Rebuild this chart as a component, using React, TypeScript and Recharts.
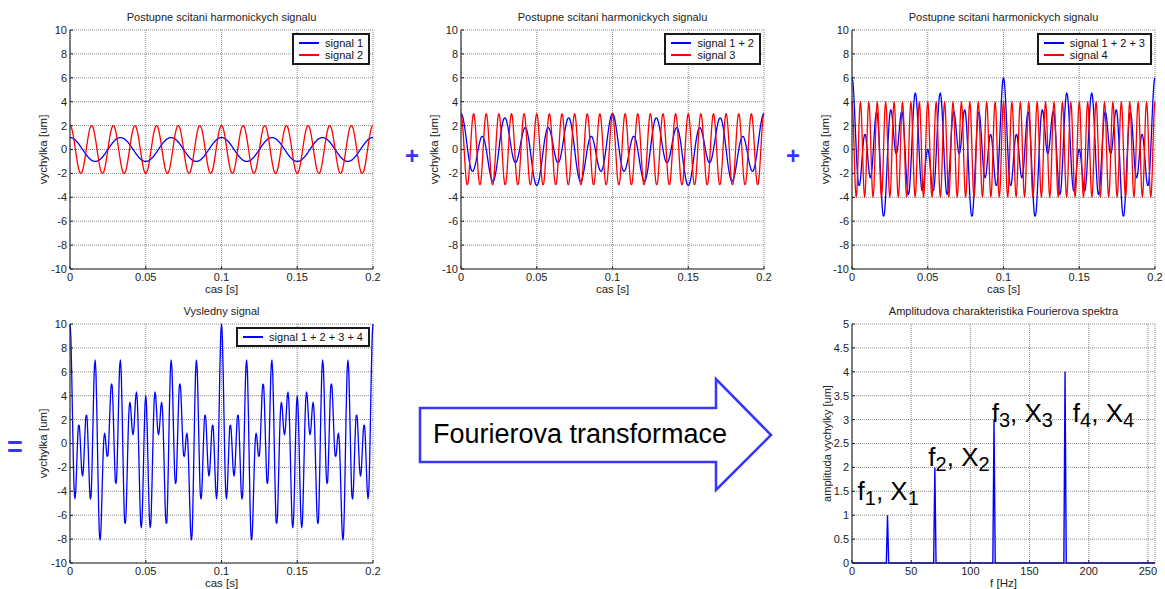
import React from 'react';
import { LineChart, Line, XAxis, YAxis, CartesianGrid, Legend, Label, ReferenceDot } from 'recharts';

const FONT = "'Liberation Sans', Arial, Helvetica, sans-serif";
const BLUE = '#0000ff';
const RED = '#ff0000';
const ACCENT = '#3535ff';

// samples every 1/1800 s; all signals are even and repeat every 0.1 s,
// so only 0 .. 0.05 s is kept here and mirrored below
const SAMPLE_STEP = 1 / 1800;
const SAMPLE_COUNT = 361;

const signal1 = [
  1, 0.99, 0.98, 0.95, 0.91, 0.87, 0.81, 0.74, 0.67, 0.59, 0.5, 0.41, 0.31, 0.21, 0.1, 0, -0.1, -0.21, -0.31, -0.41,
  -0.5, -0.59, -0.67, -0.74, -0.81, -0.87, -0.91, -0.95, -0.98, -0.99, -1,
  -0.99, -0.98, -0.95, -0.91, -0.87, -0.81, -0.74, -0.67, -0.59, -0.5, -0.41, -0.31, -0.21, -0.1, 0, 0.1, 0.21, 0.31, 0.41,
  0.5, 0.59, 0.67, 0.74, 0.81, 0.87, 0.91, 0.95, 0.98, 0.99, 1,
  0.99, 0.98, 0.95, 0.91, 0.87, 0.81, 0.74, 0.67, 0.59, 0.5, 0.41, 0.31, 0.21, 0.1, 0, -0.1, -0.21, -0.31, -0.41,
  -0.5, -0.59, -0.67, -0.74, -0.81, -0.87, -0.91, -0.95, -0.98, -0.99, -1,
];
const signal2 = [
  2, 1.94, 1.77, 1.49, 1.12, 0.68, 0.21, -0.28, -0.75, -1.18, -1.53, -1.8, -1.96, -2, -1.92, -1.73, -1.44, -1.06, -0.62, -0.14,
  0.35, 0.81, 1.23, 1.58, 1.83, 1.97, 2, 1.9, 1.7, 1.39, 1,
  0.55, 0.07, -0.42, -0.88, -1.29, -1.62, -1.85, -1.98, -1.99, -1.88, -1.66, -1.34, -0.94, -0.48, 0, 0.48, 0.94, 1.34, 1.66,
  1.88, 1.99, 1.98, 1.85, 1.62, 1.29, 0.88, 0.42, -0.07, -0.55, -1,
  -1.39, -1.7, -1.9, -2, -1.97, -1.83, -1.58, -1.23, -0.81, -0.35, 0.14, 0.62, 1.06, 1.44, 1.73, 1.92, 2, 1.96, 1.8, 1.53,
  1.18, 0.75, 0.28, -0.21, -0.68, -1.12, -1.49, -1.77, -1.94, -2,
];
const signal3 = [
  3, 2.74, 2.01, 0.93, -0.31, -1.5, -2.43, -2.93, -2.93, -2.43, -1.5, -0.31, 0.93, 2.01, 2.74,
  3, 2.74, 2.01, 0.93, -0.31, -1.5, -2.43, -2.93, -2.93, -2.43, -1.5, -0.31, 0.93, 2.01, 2.74,
  3, 2.74, 2.01, 0.93, -0.31, -1.5, -2.43, -2.93, -2.93, -2.43, -1.5, -0.31, 0.93, 2.01, 2.74,
  3, 2.74, 2.01, 0.93, -0.31, -1.5, -2.43, -2.93, -2.93, -2.43, -1.5, -0.31, 0.93, 2.01, 2.74,
  3, 2.74, 2.01, 0.93, -0.31, -1.5, -2.43, -2.93, -2.93, -2.43, -1.5, -0.31, 0.93, 2.01, 2.74,
  3, 2.74, 2.01, 0.93, -0.31, -1.5, -2.43, -2.93, -2.93, -2.43, -1.5, -0.31, 0.93, 2.01, 2.74,
  3,
];
const signal4 = [
  4, 3.24, 1.24, -1.24, -3.24, -4, -3.24, -1.24, 1.24, 3.24,
  4, 3.24, 1.24, -1.24, -3.24, -4, -3.24, -1.24, 1.24, 3.24,
  4, 3.24, 1.24, -1.24, -3.24, -4, -3.24, -1.24, 1.24, 3.24,
  4, 3.24, 1.24, -1.24, -3.24, -4, -3.24, -1.24, 1.24, 3.24,
  4, 3.24, 1.24, -1.24, -3.24, -4, -3.24, -1.24, 1.24, 3.24,
  4, 3.24, 1.24, -1.24, -3.24, -4, -3.24, -1.24, 1.24, 3.24,
  4, 3.24, 1.24, -1.24, -3.24, -4, -3.24, -1.24, 1.24, 3.24,
  4, 3.24, 1.24, -1.24, -3.24, -4, -3.24, -1.24, 1.24, 3.24,
  4, 3.24, 1.24, -1.24, -3.24, -4, -3.24, -1.24, 1.24, 3.24,
  4,
];
const signal12 = [
  3, 2.94, 2.74, 2.44, 2.03, 1.55, 1.02, 0.46, -0.08, -0.59, -1.03, -1.39, -1.65, -1.79, -1.82, -1.73, -1.54, -1.27, -0.93, -0.55,
  -0.15, 0.23, 0.56, 0.83, 1.02, 1.1, 1.08, 0.95, 0.72, 0.39, 0,
  -0.44, -0.91, -1.37, -1.79, -2.15, -2.43, -2.6, -2.65, -2.58, -2.38, -2.06, -1.65, -1.15, -0.59, 0, 0.59, 1.15, 1.65, 2.06,
  2.38, 2.58, 2.65, 2.6, 2.43, 2.15, 1.79, 1.37, 0.91, 0.44, 0,
  -0.39, -0.72, -0.95, -1.08, -1.1, -1.02, -0.83, -0.56, -0.23, 0.15, 0.55, 0.93, 1.27, 1.54, 1.73, 1.82, 1.79, 1.65, 1.39, 1.03,
  0.59, 0.08, -0.46, -1.02, -1.55, -2.03, -2.44, -2.74, -2.94, -3,
];
const signal123 = [
  6, 5.68, 4.75, 3.36, 1.72, 0.05, -1.41, -2.47, -3.01, -3.01, -2.53, -1.7, -0.72, 0.22, 0.92, 1.27, 1.2, 0.74, 0, -0.86,
  -1.65, -2.2, -2.37, -2.1, -1.41, -0.4, 0.77, 1.88, 2.73, 3.14, 3,
  2.3, 1.1, -0.44, -2.1, -3.65, -4.85, -5.53, -5.58, -5, -3.88, -2.38, -0.72, 0.86, 2.15, 3, 3.33, 3.15, 2.57, 1.75, 0.88,
  0.15, -0.28, -0.34, 0, 0.65, 1.48, 2.29, 2.92, 3.18, 3,
  2.35, 1.29, -0.02, -1.4, -2.6, -3.45, -3.77, -3.5, -2.65, -1.35, 0.23, 1.85, 3.28, 4.28, 4.73, 4.56, 3.8, 2.57, 1.08, -0.47,
  -1.84, -2.85, -3.4, -3.45, -3.05, -2.35, -1.51, -0.74, -0.19, 0,
];
const signal1234 = [
  10, 8.91, 5.99, 2.13, -1.52, -3.95, -4.65, -3.71, -1.78, 0.22, 1.47, 1.53, 0.52, -1.02, -2.31, -2.73, -2.04, -0.5, 1.24, 2.38,
  2.35, 1.03, -1.14, -3.34, -4.65, -4.4, -2.47, 0.64, 3.96, 6.37, 7,
  5.53, 2.34, -1.68, -5.34, -7.65, -8.09, -6.77, -4.35, -1.77, 0.12, 0.86, 0.52, -0.38, -1.08, -1, 0.09, 1.92, 3.81, 4.99, 4.88,
  3.39, 0.95, -1.57, -3.24, -3.35, -1.76, 1.06, 4.15, 6.42, 7,
  5.58, 2.53, -1.26, -4.63, -6.6, -6.68, -5, -2.26, 0.58, 2.65, 3.47, 3.09, 2.04, 1.05, 0.73, 1.32, 2.56, 3.81, 4.31, 3.53,
  1.4, -1.62, -4.64, -6.68, -7.05, -5.58, -2.75, 0.5, 3.04, 4,
];

const timeTicks = [0, 0.05, 0.1, 0.15, 0.2];
const displacementTicks = [-10, -8, -6, -4, -2, 0, 2, 4, 6, 8, 10];

// amplitude spectrum
const spectrumFreq = [0, 29, 30, 31, 69, 70, 71, 119, 120, 121, 179, 180, 181, 256];
const spectrumAmp = [0, 0, 1, 0, 0, 2, 0, 0, 3, 0, 0, 4, 0, 0];
const freqTicks = [0, 50, 100, 150, 200, 250];
const ampTicks = [0, 0.5, 1, 1.5, 2, 2.5, 3, 3.5, 4, 4.5, 5];

// "f_n, X_n" annotations (data coordinates of the text baseline start)
const peakIndex = ['1', '2', '3', '4'];
const peakLabelFreq = [4.7, 64.5, 118, 186.6];
const peakLabelAmp = [1.32, 2.02, 2.96, 2.96];

const halfIndex = (k: number) => {
  const m = k % 180;
  return m <= 90 ? m : 180 - m;
};

const timeData = Array.from({ length: SAMPLE_COUNT }, (_, k) => {
  const i = halfIndex(k);
  return {
    t: k * SAMPLE_STEP,
    s1: signal1[i],
    s2: signal2[i],
    s3: signal3[i],
    s4: signal4[i],
    s12: signal12[i],
    s123: signal123[i],
    s1234: signal1234[i],
  };
});

const spectrumData = spectrumFreq.map((f, i) => ({ f, a: spectrumAmp[i] }));

const PLOT_W = 303;
const PLOT_H = 239;
const M_LEFT = 50;
const M_TOP = 26;
const M_RIGHT = 8;
const X_AXIS_H = 40;

const AXIS = { stroke: '#2a2a2a', strokeWidth: 1.1 };
const TICK = { fontSize: 11, fill: '#222' };
const GRID = { stroke: '#8a8a8a', strokeDasharray: '1 1' };

type Series = { key: string; name: string; color: string };

const LegendBox = ({ series }: { series: Series[] }) => (
  <div
    style={{
      background: '#fff',
      border: '2px solid #1a1a1a',
      padding: '2px 5px 2px 5px',
      fontSize: 11,
      lineHeight: '12px',
      color: '#111',
      whiteSpace: 'nowrap',
    }}
  >
    {series.map((s) => (
      <div key={s.key} style={{ display: 'flex', alignItems: 'center' }}>
        <div style={{ width: 20, height: 1.5, background: s.color, marginRight: 6, flexShrink: 0 }} />
        <span>{s.name}</span>
      </div>
    ))}
  </div>
);

const Title = ({ text }: { text: string }) => (
  <div
    style={{
      position: 'absolute',
      left: M_LEFT,
      width: PLOT_W,
      top: M_TOP - 19,
      textAlign: 'center',
      fontSize: 11,
      lineHeight: '13px',
      color: '#222',
      whiteSpace: 'nowrap',
    }}
  >
    {text}
  </div>
);

type PanelProps = { left: number; top: number; title: string; series: Series[] };

const TimePanel = ({ left, top, title, series }: PanelProps) => (
  <div style={{ position: 'absolute', left: left - M_LEFT, top: top - M_TOP }}>
    <Title text={title} />
    <LineChart
      width={M_LEFT + PLOT_W + M_RIGHT}
      height={M_TOP + PLOT_H + X_AXIS_H}
      data={timeData}
      margin={{ top: M_TOP, right: M_RIGHT, bottom: 0, left: 0 }}
    >
      <CartesianGrid {...GRID} />
      <XAxis
        type="number"
        dataKey="t"
        domain={[0, 0.2]}
        ticks={timeTicks}
        height={X_AXIS_H}
        axisLine={AXIS}
        tickLine={AXIS}
        tickSize={-3}
        tickMargin={7}
        tick={TICK}
        interval={0}
      >
        <Label value="cas [s]" position="center" style={{ fontSize: 11.5, fill: '#222' }} />
      </XAxis>
      <XAxis
        xAxisId="top"
        orientation="top"
        type="number"
        dataKey="t"
        domain={[0, 0.2]}
        ticks={timeTicks}
        height={0}
        axisLine={AXIS}
        tickLine={AXIS}
        tickSize={-3}
        tick={false}
      />
      <YAxis
        type="number"
        domain={[-10, 10]}
        ticks={displacementTicks}
        width={M_LEFT}
        axisLine={AXIS}
        tickLine={AXIS}
        tickSize={-3}
        tickMargin={6}
        tick={TICK}
        interval={0}
      >
        <Label value="vychylka [um]" angle={-90} position="center" dx={-2} style={{ fontSize: 11.5, fill: '#222' }} />
      </YAxis>
      <YAxis
        yAxisId="right"
        orientation="right"
        type="number"
        domain={[-10, 10]}
        ticks={displacementTicks}
        width={0}
        axisLine={AXIS}
        tickLine={AXIS}
        tickSize={-3}
        tick={false}
      />
      <Legend
        layout="horizontal"
        verticalAlign="middle"
        align="center"
        wrapperStyle={{ top: M_TOP + 3, right: M_RIGHT + 3, width: 'auto', left: 'auto' }}
        content={() => <LegendBox series={series} />}
      />
      {series.map((s) => (
        <Line
          key={s.key}
          type="monotone"
          dataKey={s.key}
          name={s.name}
          stroke={s.color}
          strokeWidth={1.3}
          dot={false}
          activeDot={false}
          isAnimationActive={false}
        />
      ))}
    </LineChart>
  </div>
);

const PeakLabel = (props: any) => {
  const { viewBox, n } = props;
  return (
    <text x={viewBox.x} y={viewBox.y} fontSize={26} fill="#000" fontFamily={FONT}>
      f
      <tspan dy={5} fontSize={20}>{n}</tspan>
      <tspan dy={-5}>, X</tspan>
      <tspan dy={5} fontSize={20}>{n}</tspan>
    </text>
  );
};

const SpectrumPanel = ({ left, top }: { left: number; top: number }) => (
  <div style={{ position: 'absolute', left: left - M_LEFT, top: top - M_TOP }}>
    <Title text="Amplitudova charakteristika Fourierova spektra" />
    <LineChart
      width={M_LEFT + PLOT_W + M_RIGHT}
      height={M_TOP + PLOT_H + X_AXIS_H}
      data={spectrumData}
      margin={{ top: M_TOP, right: M_RIGHT, bottom: 0, left: 0 }}
    >
      <CartesianGrid {...GRID} />
      <XAxis
        type="number"
        dataKey="f"
        domain={[0, 256]}
        ticks={freqTicks}
        height={X_AXIS_H}
        axisLine={AXIS}
        tickLine={AXIS}
        tickSize={-3}
        tickMargin={7}
        tick={TICK}
        interval={0}
      >
        <Label value="f [Hz]" position="center" style={{ fontSize: 11.5, fill: '#222' }} />
      </XAxis>
      <XAxis
        xAxisId="top"
        orientation="top"
        type="number"
        dataKey="f"
        domain={[0, 256]}
        ticks={freqTicks}
        height={0}
        axisLine={AXIS}
        tickLine={AXIS}
        tickSize={-3}
        tick={false}
      />
      <YAxis
        type="number"
        domain={[0, 5]}
        ticks={ampTicks}
        width={M_LEFT}
        axisLine={AXIS}
        tickLine={AXIS}
        tickSize={-3}
        tickMargin={6}
        tick={TICK}
        interval={0}
      >
        <Label value="amplituda vychylky [um]" angle={-90} position="center" style={{ fontSize: 11, fill: '#222' }} />
      </YAxis>
      <YAxis
        yAxisId="right"
        orientation="right"
        type="number"
        domain={[0, 5]}
        ticks={ampTicks}
        width={0}
        axisLine={AXIS}
        tickLine={AXIS}
        tickSize={-3}
        tick={false}
      />
      <Line
        type="linear"
        dataKey="a"
        stroke={BLUE}
        strokeWidth={1.4}
        dot={false}
        activeDot={false}
        isAnimationActive={false}
      />
      {peakIndex.map((n, i) => (
        <ReferenceDot
          key={n}
          x={peakLabelFreq[i]}
          y={peakLabelAmp[i]}
          r={0}
          fill="none"
          stroke="none"
          label={{ content: (p: any) => <PeakLabel {...p} n={n} /> }}
        />
      ))}
    </LineChart>
  </div>
);

const Sign = ({ x, y, text, size }: { x: number; y: number; text: string; size: number }) => (
  <div
    style={{
      position: 'absolute',
      left: x,
      top: y,
      transform: 'translate(-50%, -50%)',
      fontSize: size,
      fontWeight: 'bold',
      lineHeight: 1,
      color: ACCENT,
    }}
  >
    {text}
  </div>
);

export default function App() {
  return (
    <div
      style={{
        position: 'absolute',
        left: 0,
        top: 0,
        width: 1165,
        height: 589,
        background: '#fff',
        fontFamily: FONT,
        overflow: 'hidden',
      }}
    >
      <TimePanel
        left={70}
        top={30}
        title="Postupne scitani harmonickych signalu"
        series={[
          { key: 's1', name: 'signal 1', color: BLUE },
          { key: 's2', name: 'signal 2', color: RED },
        ]}
      />
      <TimePanel
        left={461}
        top={30}
        title="Postupne scitani harmonickych signalu"
        series={[
          { key: 's12', name: 'signal 1 + 2', color: BLUE },
          { key: 's3', name: 'signal 3', color: RED },
        ]}
      />
      <TimePanel
        left={852}
        top={30}
        title="Postupne scitani harmonickych signalu"
        series={[
          { key: 's123', name: 'signal 1 + 2 + 3', color: BLUE },
          { key: 's4', name: 'signal 4', color: RED },
        ]}
      />
      <TimePanel
        left={70}
        top={324}
        title="Vysledny signal"
        series={[{ key: 's1234', name: 'signal 1 + 2 + 3 + 4', color: BLUE }]}
      />
      <SpectrumPanel left={852} top={324} />

      <Sign x={412} y={156} text="+" size={24} />
      <Sign x={793} y={156} text="+" size={24} />
      <Sign x={15} y={447} text="=" size={27} />

      <svg style={{ position: 'absolute', left: 410, top: 370 }} width={372} height={130}>
        <polygon
          points="10,38 306,38 306,9 361,65 306,120 306,92 10,92"
          fill="#fff"
          stroke={ACCENT}
          strokeWidth={2.5}
          strokeLinejoin="miter"
        />
        <text x={23} y={73} fontSize={27} fill="#000" fontFamily={FONT}>
          Fourierova transformace
        </text>
      </svg>
    </div>
  );
}
